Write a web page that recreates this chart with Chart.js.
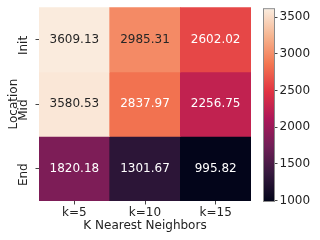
<!DOCTYPE html>
<html>
<head>
<meta charset="utf-8">
<script src="https://cdn.jsdelivr.net/npm/chart.js@4.4.0/dist/chart.umd.min.js"></script>
<style>
  body { margin: 0; background: #fff; }
  #wrap { position: relative; width: 320px; height: 240px; }
  canvas { position: absolute; top: 0; }
</style>
</head>
<body>
<div id="wrap">
  <canvas id="heat" width="320" height="240" style="left:0"></canvas>
  <canvas id="cbar" width="68" height="240" style="left:252px"></canvas>
</div>
<script>
// categorias e valores
const kLabels = ['k=5', 'k=10', 'k=15'];
const rowLabels = ['Init', 'Mid', 'End'];
const initVals = [3609.13, 2985.31, 2602.02];
const midVals = [3580.53, 2837.97, 2256.75];
const endVals = [1820.18, 1301.67, 995.82];
const cbarTicks = [1000, 1500, 2000, 2500, 3000, 3500];

const allVals = initVals.concat(midVals, endVals);
const vMin = Math.min(...allVals);
const vMax = Math.max(...allVals);

// paleta "rocket" (aproximada)
const rocket = [
    [0, [3, 5, 26]],
    [1 / 7, [53, 25, 62]],
    [2 / 7, [112, 31, 87]],
    [3 / 7, [173, 23, 89]],
    [4 / 7, [225, 51, 66]],
    [5 / 7, [243, 118, 81]],
    [6 / 7, [246, 180, 143]],
    [1, [250, 235, 221]]
];

function rocketRGB(t) {
    t = Math.max(0, Math.min(1, t));
    for (let i = 1; i < rocket.length; i++) {
        if (t <= rocket[i][0]) {
            const a = rocket[i - 1], b = rocket[i];
            const f = (t - a[0]) / (b[0] - a[0]);
            return a[1].map((c, j) => Math.round(c + (b[1][j] - c) * f));
        }
    }
    return rocket[rocket.length - 1][1];
}
function colorFor(v) {
    const c = rocketRGB((v - vMin) / (vMax - vMin));
    return 'rgb(' + c.join(',') + ')';
}
function textFor(v) {
    const c = rocketRGB((v - vMin) / (vMax - vMin));
    const lum = 0.2126 * c[0] + 0.7152 * c[1] + 0.0722 * c[2];
    return lum > 150 ? '#262626' : '#ffffff';
}

Chart.defaults.font.family = 'DejaVu Sans';
Chart.defaults.font.size = 12;
Chart.defaults.color = '#222';

const rows = [
    { name: 'Init', vals: initVals, lo: 2 },
    { name: 'Mid', vals: midVals, lo: 1 },
    { name: 'End', vals: endVals, lo: 0 }
];

// texto dentro das celulas
const cellText = {
    id: 'cellText',
    afterDatasetsDraw(chart) {
        const ctx = chart.ctx;
        ctx.save();
        ctx.font = '12px "DejaVu Sans"';
        ctx.textAlign = 'center';
        ctx.textBaseline = 'middle';
        chart.data.datasets.forEach((ds, di) => {
            chart.getDatasetMeta(di).data.forEach((bar, i) => {
                const p = bar.getCenterPoint();
                const v = ds.values[i];
                ctx.fillStyle = textFor(v);
                ctx.fillText(v.toFixed(2), p.x, p.y);
            });
        });
        ctx.restore();
    }
};

new Chart(document.getElementById('heat'), {
    type: 'bar',
    data: {
        labels: kLabels,
        datasets: rows.map(r => ({
            label: r.name,
            values: r.vals,
            data: kLabels.map(() => [r.lo, r.lo + 1]),
            backgroundColor: r.vals.map(colorFor),
            borderWidth: 0,
            borderSkipped: false,
            barPercentage: 1,
            categoryPercentage: 1,
            grouped: false
        }))
    },
    options: {
        responsive: false,
        animation: false,
        layout: { padding: { left: 0, top: 6, right: 69, bottom: 0 } },
        plugins: { legend: { display: false }, tooltip: { enabled: false } },
        scales: {
            x: {
                type: 'category',
                grid: { drawOnChartArea: false, offset: false, tickLength: 3.5, color: '#444' },
                border: { display: false },
                ticks: { padding: 1, color: '#222' },
                title: { display: true, text: 'K Nearest Neighbors', color: '#222', padding: { top: 0, bottom: 7 } },
                afterFit: s => { s.height = 39; }
            },
            y: {
                type: 'linear',
                min: 0,
                max: 3,
                afterBuildTicks: s => { s.ticks = [0.5, 1.5, 2.5].map(v => ({ value: v })); },
                grid: { drawOnChartArea: false, tickLength: 3.5, color: '#444' },
                border: { display: false },
                ticks: {
                    minRotation: 90,
                    maxRotation: 90,
                    crossAlign: 'center',
                    padding: 0,
                    labelOffset: 6,
                    color: '#222',
                    callback: v => rowLabels[2 - Math.floor(v)]
                },
                title: { display: true, text: 'Location', color: '#222', padding: { top: 7, bottom: 0 } },
                afterFit: s => { s.width = 39; }
            }
        }
    },
    plugins: [cellText]
});

// barra de cores
const cbarOutline = {
    id: 'cbarOutline',
    afterDatasetsDraw(chart) {
        const a = chart.chartArea;
        const ctx = chart.ctx;
        ctx.save();
        ctx.strokeStyle = '#8a8a8a';
        ctx.lineWidth = 1;
        ctx.strokeRect(a.left - 0.5, a.top - 0.5, a.right - a.left + 1, a.bottom - a.top + 1);
        ctx.restore();
    }
};

new Chart(document.getElementById('cbar'), {
    type: 'bar',
    data: {
        labels: [''],
        datasets: [{
            data: [[vMin, vMax]],
            backgroundColor: c => {
                const a = c.chart.chartArea;
                if (!a) return '#000';
                const g = c.chart.ctx.createLinearGradient(0, a.bottom, 0, a.top);
                rocket.forEach(s => g.addColorStop(s[0], 'rgb(' + s[1].join(',') + ')'));
                return g;
            },
            borderWidth: 0,
            borderSkipped: false,
            barPercentage: 1,
            categoryPercentage: 1
        }]
    },
    options: {
        responsive: false,
        animation: false,
        layout: { padding: { left: 12, top: 6, right: 0, bottom: 39 } },
        plugins: { legend: { display: false }, tooltip: { enabled: false } },
        scales: {
            x: { display: false },
            y: {
                position: 'right',
                min: vMin,
                max: vMax,
                afterBuildTicks: s => { s.ticks = cbarTicks.map(v => ({ value: v })); },
                grid: { drawOnChartArea: false, tickLength: 3.5, color: '#444' },
                border: { display: false },
                ticks: { padding: 2, color: '#222', callback: v => String(v) },
                afterFit: s => { s.width = 46; }
            }
        }
    },
    plugins: [cbarOutline]
});
</script>
</body>
</html>
